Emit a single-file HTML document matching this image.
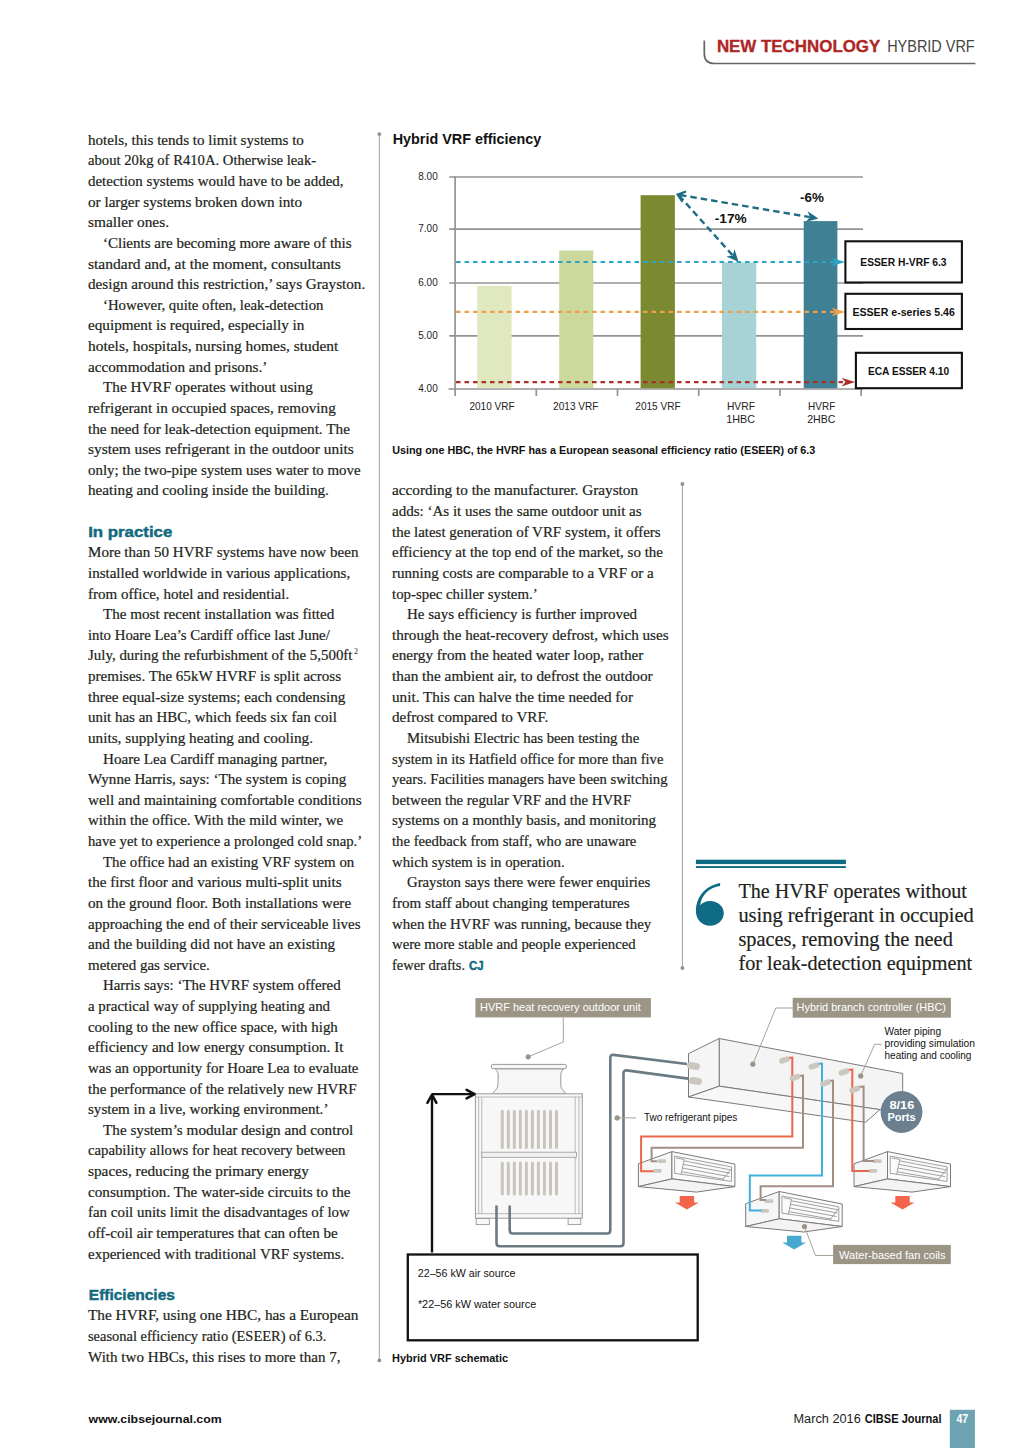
<!DOCTYPE html>
<html><head><meta charset="utf-8"><title>Hybrid VRF</title>
<style>
html,body{margin:0;padding:0;background:#ffffff;}
#page{position:relative;width:1024px;height:1448px;overflow:hidden;background:#ffffff;font-family:"Liberation Serif",serif;}
svg{position:absolute;left:0;top:0;}
</style></head><body><div id="page">
<svg width="1024" height="1448" viewBox="0 0 1024 1448">
<path d="M704.3 40.5 V53.5 Q704.3 63.5 714.3 63.5 H975.4" fill="none" stroke="#666666" stroke-width="1.7"/>
<text x="716.9" y="52.4" font-family="'Liberation Sans', sans-serif" font-size="17" font-weight="bold" fill="#ae2624" textLength="163.4" lengthAdjust="spacingAndGlyphs" stroke="#ae2624" stroke-width="0.35">NEW TECHNOLOGY</text>
<text x="887.2" y="52.4" font-family="'Liberation Sans', sans-serif" font-size="17" fill="#444444" textLength="87.5" lengthAdjust="spacingAndGlyphs">HYBRID VRF</text>
<line x1="379.3" y1="134" x2="379.3" y2="1360.4" stroke="#a0a0a0" stroke-width="1"/>
<circle cx="379.3" cy="134.1" r="1.9" fill="#909090"/><circle cx="379.3" cy="1360.4" r="1.9" fill="#909090"/>
<line x1="682.4" y1="484" x2="682.4" y2="968" stroke="#a0a0a0" stroke-width="1"/>
<circle cx="682.4" cy="484" r="1.9" fill="#909090"/><circle cx="682.4" cy="968" r="1.9" fill="#909090"/>
<text x="88.0" y="144.8" font-family="'Liberation Serif', serif" font-size="15.5" fill="#231f20" textLength="215.9" lengthAdjust="spacingAndGlyphs" stroke="#231f20" stroke-width="0.22">hotels, this tends to limit systems to</text>
<text x="88.0" y="165.4" font-family="'Liberation Serif', serif" font-size="15.5" fill="#231f20" textLength="228.1" lengthAdjust="spacingAndGlyphs" stroke="#231f20" stroke-width="0.22">about 20kg of R410A. Otherwise leak-</text>
<text x="88.0" y="186.1" font-family="'Liberation Serif', serif" font-size="15.5" fill="#231f20" textLength="255.5" lengthAdjust="spacingAndGlyphs" stroke="#231f20" stroke-width="0.22">detection systems would have to be added,</text>
<text x="88.0" y="206.7" font-family="'Liberation Serif', serif" font-size="15.5" fill="#231f20" textLength="214.1" lengthAdjust="spacingAndGlyphs" stroke="#231f20" stroke-width="0.22">or larger systems broken down into</text>
<text x="88.0" y="227.3" font-family="'Liberation Serif', serif" font-size="15.5" fill="#231f20" textLength="81.0" lengthAdjust="spacingAndGlyphs" stroke="#231f20" stroke-width="0.22">smaller ones.</text>
<text x="103.0" y="247.9" font-family="'Liberation Serif', serif" font-size="15.5" fill="#231f20" textLength="248.6" lengthAdjust="spacingAndGlyphs" stroke="#231f20" stroke-width="0.22">‘Clients are becoming more aware of this</text>
<text x="88.0" y="268.6" font-family="'Liberation Serif', serif" font-size="15.5" fill="#231f20" textLength="252.9" lengthAdjust="spacingAndGlyphs" stroke="#231f20" stroke-width="0.22">standard and, at the moment, consultants</text>
<text x="88.0" y="289.2" font-family="'Liberation Serif', serif" font-size="15.5" fill="#231f20" textLength="277.2" lengthAdjust="spacingAndGlyphs" stroke="#231f20" stroke-width="0.22">design around this restriction,’ says Grayston.</text>
<text x="103.0" y="309.8" font-family="'Liberation Serif', serif" font-size="15.5" fill="#231f20" textLength="220.5" lengthAdjust="spacingAndGlyphs" stroke="#231f20" stroke-width="0.22">‘However, quite often, leak-detection</text>
<text x="88.0" y="330.4" font-family="'Liberation Serif', serif" font-size="15.5" fill="#231f20" textLength="216.4" lengthAdjust="spacingAndGlyphs" stroke="#231f20" stroke-width="0.22">equipment is required, especially in</text>
<text x="88.0" y="351.1" font-family="'Liberation Serif', serif" font-size="15.5" fill="#231f20" textLength="250.4" lengthAdjust="spacingAndGlyphs" stroke="#231f20" stroke-width="0.22">hotels, hospitals, nursing homes, student</text>
<text x="88.0" y="371.7" font-family="'Liberation Serif', serif" font-size="15.5" fill="#231f20" textLength="179.3" lengthAdjust="spacingAndGlyphs" stroke="#231f20" stroke-width="0.22">accommodation and prisons.’</text>
<text x="103.0" y="392.3" font-family="'Liberation Serif', serif" font-size="15.5" fill="#231f20" textLength="209.8" lengthAdjust="spacingAndGlyphs" stroke="#231f20" stroke-width="0.22">The HVRF operates without using</text>
<text x="88.0" y="412.9" font-family="'Liberation Serif', serif" font-size="15.5" fill="#231f20" textLength="247.8" lengthAdjust="spacingAndGlyphs" stroke="#231f20" stroke-width="0.22">refrigerant in occupied spaces, removing</text>
<text x="88.0" y="433.6" font-family="'Liberation Serif', serif" font-size="15.5" fill="#231f20" textLength="261.9" lengthAdjust="spacingAndGlyphs" stroke="#231f20" stroke-width="0.22">the need for leak-detection equipment. The</text>
<text x="88.0" y="454.2" font-family="'Liberation Serif', serif" font-size="15.5" fill="#231f20" textLength="265.7" lengthAdjust="spacingAndGlyphs" stroke="#231f20" stroke-width="0.22">system uses refrigerant in the outdoor units</text>
<text x="88.0" y="474.8" font-family="'Liberation Serif', serif" font-size="15.5" fill="#231f20" textLength="272.6" lengthAdjust="spacingAndGlyphs" stroke="#231f20" stroke-width="0.22">only; the two-pipe system uses water to move</text>
<text x="88.0" y="495.4" font-family="'Liberation Serif', serif" font-size="15.5" fill="#231f20" textLength="240.9" lengthAdjust="spacingAndGlyphs" stroke="#231f20" stroke-width="0.22">heating and cooling inside the building.</text>
<text x="88.0" y="557.3" font-family="'Liberation Serif', serif" font-size="15.5" fill="#231f20" textLength="270.4" lengthAdjust="spacingAndGlyphs" stroke="#231f20" stroke-width="0.22">More than 50 HVRF systems have now been</text>
<text x="88.0" y="577.9" font-family="'Liberation Serif', serif" font-size="15.5" fill="#231f20" textLength="262.2" lengthAdjust="spacingAndGlyphs" stroke="#231f20" stroke-width="0.22">installed worldwide in various applications,</text>
<text x="88.0" y="598.5" font-family="'Liberation Serif', serif" font-size="15.5" fill="#231f20" textLength="201.2" lengthAdjust="spacingAndGlyphs" stroke="#231f20" stroke-width="0.22">from office, hotel and residential.</text>
<text x="103.0" y="619.2" font-family="'Liberation Serif', serif" font-size="15.5" fill="#231f20" textLength="231.3" lengthAdjust="spacingAndGlyphs" stroke="#231f20" stroke-width="0.22">The most recent installation was fitted</text>
<text x="88.0" y="639.8" font-family="'Liberation Serif', serif" font-size="15.5" fill="#231f20" textLength="241.8" lengthAdjust="spacingAndGlyphs" stroke="#231f20" stroke-width="0.22">into Hoare Lea’s Cardiff office last June/</text>
<text x="88.0" y="660.4" font-family="'Liberation Serif', serif" font-size="15.5" fill="#231f20" textLength="264.5" lengthAdjust="spacingAndGlyphs" stroke="#231f20" stroke-width="0.22">July, during the refurbishment of the 5,500ft</text>
<text x="88.0" y="681.0" font-family="'Liberation Serif', serif" font-size="15.5" fill="#231f20" textLength="253.0" lengthAdjust="spacingAndGlyphs" stroke="#231f20" stroke-width="0.22">premises. The 65kW HVRF is split across</text>
<text x="88.0" y="701.7" font-family="'Liberation Serif', serif" font-size="15.5" fill="#231f20" textLength="257.4" lengthAdjust="spacingAndGlyphs" stroke="#231f20" stroke-width="0.22">three equal-size systems; each condensing</text>
<text x="88.0" y="722.3" font-family="'Liberation Serif', serif" font-size="15.5" fill="#231f20" textLength="248.8" lengthAdjust="spacingAndGlyphs" stroke="#231f20" stroke-width="0.22">unit has an HBC, which feeds six fan coil</text>
<text x="88.0" y="742.9" font-family="'Liberation Serif', serif" font-size="15.5" fill="#231f20" textLength="225.0" lengthAdjust="spacingAndGlyphs" stroke="#231f20" stroke-width="0.22">units, supplying heating and cooling.</text>
<text x="103.0" y="763.5" font-family="'Liberation Serif', serif" font-size="15.5" fill="#231f20" textLength="224.3" lengthAdjust="spacingAndGlyphs" stroke="#231f20" stroke-width="0.22">Hoare Lea Cardiff managing partner,</text>
<text x="88.0" y="784.2" font-family="'Liberation Serif', serif" font-size="15.5" fill="#231f20" textLength="258.3" lengthAdjust="spacingAndGlyphs" stroke="#231f20" stroke-width="0.22">Wynne Harris, says: ‘The system is coping</text>
<text x="88.0" y="804.8" font-family="'Liberation Serif', serif" font-size="15.5" fill="#231f20" textLength="273.6" lengthAdjust="spacingAndGlyphs" stroke="#231f20" stroke-width="0.22">well and maintaining comfortable conditions</text>
<text x="88.0" y="825.4" font-family="'Liberation Serif', serif" font-size="15.5" fill="#231f20" textLength="255.2" lengthAdjust="spacingAndGlyphs" stroke="#231f20" stroke-width="0.22">within the office. With the mild winter, we</text>
<text x="88.0" y="846.0" font-family="'Liberation Serif', serif" font-size="15.5" fill="#231f20" textLength="274.2" lengthAdjust="spacingAndGlyphs" stroke="#231f20" stroke-width="0.22">have yet to experience a prolonged cold snap.’</text>
<text x="103.0" y="866.7" font-family="'Liberation Serif', serif" font-size="15.5" fill="#231f20" textLength="251.3" lengthAdjust="spacingAndGlyphs" stroke="#231f20" stroke-width="0.22">The office had an existing VRF system on</text>
<text x="88.0" y="887.3" font-family="'Liberation Serif', serif" font-size="15.5" fill="#231f20" textLength="253.6" lengthAdjust="spacingAndGlyphs" stroke="#231f20" stroke-width="0.22">the first floor and various multi-split units</text>
<text x="88.0" y="907.9" font-family="'Liberation Serif', serif" font-size="15.5" fill="#231f20" textLength="263.1" lengthAdjust="spacingAndGlyphs" stroke="#231f20" stroke-width="0.22">on the ground floor. Both installations were</text>
<text x="88.0" y="928.5" font-family="'Liberation Serif', serif" font-size="15.5" fill="#231f20" textLength="272.6" lengthAdjust="spacingAndGlyphs" stroke="#231f20" stroke-width="0.22">approaching the end of their serviceable lives</text>
<text x="88.0" y="949.2" font-family="'Liberation Serif', serif" font-size="15.5" fill="#231f20" textLength="247.2" lengthAdjust="spacingAndGlyphs" stroke="#231f20" stroke-width="0.22">and the building did not have an existing</text>
<text x="88.0" y="969.8" font-family="'Liberation Serif', serif" font-size="15.5" fill="#231f20" textLength="121.8" lengthAdjust="spacingAndGlyphs" stroke="#231f20" stroke-width="0.22">metered gas service.</text>
<text x="103.0" y="990.4" font-family="'Liberation Serif', serif" font-size="15.5" fill="#231f20" textLength="237.6" lengthAdjust="spacingAndGlyphs" stroke="#231f20" stroke-width="0.22">Harris says: ‘The HVRF system offered</text>
<text x="88.0" y="1011.0" font-family="'Liberation Serif', serif" font-size="15.5" fill="#231f20" textLength="242.1" lengthAdjust="spacingAndGlyphs" stroke="#231f20" stroke-width="0.22">a practical way of supplying heating and</text>
<text x="88.0" y="1031.7" font-family="'Liberation Serif', serif" font-size="15.5" fill="#231f20" textLength="249.8" lengthAdjust="spacingAndGlyphs" stroke="#231f20" stroke-width="0.22">cooling to the new office space, with high</text>
<text x="88.0" y="1052.3" font-family="'Liberation Serif', serif" font-size="15.5" fill="#231f20" textLength="255.4" lengthAdjust="spacingAndGlyphs" stroke="#231f20" stroke-width="0.22">efficiency and low energy consumption. It</text>
<text x="88.0" y="1072.9" font-family="'Liberation Serif', serif" font-size="15.5" fill="#231f20" textLength="270.4" lengthAdjust="spacingAndGlyphs" stroke="#231f20" stroke-width="0.22">was an opportunity for Hoare Lea to evaluate</text>
<text x="88.0" y="1093.5" font-family="'Liberation Serif', serif" font-size="15.5" fill="#231f20" textLength="268.7" lengthAdjust="spacingAndGlyphs" stroke="#231f20" stroke-width="0.22">the performance of the relatively new HVRF</text>
<text x="88.0" y="1114.2" font-family="'Liberation Serif', serif" font-size="15.5" fill="#231f20" textLength="240.4" lengthAdjust="spacingAndGlyphs" stroke="#231f20" stroke-width="0.22">system in a live, working environment.’</text>
<text x="103.0" y="1134.8" font-family="'Liberation Serif', serif" font-size="15.5" fill="#231f20" textLength="250.3" lengthAdjust="spacingAndGlyphs" stroke="#231f20" stroke-width="0.22">The system’s modular design and control</text>
<text x="88.0" y="1155.4" font-family="'Liberation Serif', serif" font-size="15.5" fill="#231f20" textLength="257.4" lengthAdjust="spacingAndGlyphs" stroke="#231f20" stroke-width="0.22">capability allows for heat recovery between</text>
<text x="88.0" y="1176.0" font-family="'Liberation Serif', serif" font-size="15.5" fill="#231f20" textLength="220.9" lengthAdjust="spacingAndGlyphs" stroke="#231f20" stroke-width="0.22">spaces, reducing the primary energy</text>
<text x="88.0" y="1196.7" font-family="'Liberation Serif', serif" font-size="15.5" fill="#231f20" textLength="262.5" lengthAdjust="spacingAndGlyphs" stroke="#231f20" stroke-width="0.22">consumption. The water-side circuits to the</text>
<text x="88.0" y="1217.3" font-family="'Liberation Serif', serif" font-size="15.5" fill="#231f20" textLength="261.9" lengthAdjust="spacingAndGlyphs" stroke="#231f20" stroke-width="0.22">fan coil units limit the disadvantages of low</text>
<text x="88.0" y="1237.9" font-family="'Liberation Serif', serif" font-size="15.5" fill="#231f20" textLength="249.8" lengthAdjust="spacingAndGlyphs" stroke="#231f20" stroke-width="0.22">off-coil air temperatures that can often be</text>
<text x="88.0" y="1258.5" font-family="'Liberation Serif', serif" font-size="15.5" fill="#231f20" textLength="256.3" lengthAdjust="spacingAndGlyphs" stroke="#231f20" stroke-width="0.22">experienced with traditional VRF systems.</text>
<text x="88.0" y="1320.4" font-family="'Liberation Serif', serif" font-size="15.5" fill="#231f20" textLength="270.4" lengthAdjust="spacingAndGlyphs" stroke="#231f20" stroke-width="0.22">The HVRF, using one HBC, has a European</text>
<text x="88.0" y="1341.0" font-family="'Liberation Serif', serif" font-size="15.5" fill="#231f20" textLength="238.4" lengthAdjust="spacingAndGlyphs" stroke="#231f20" stroke-width="0.22">seasonal efficiency ratio (ESEER) of 6.3.</text>
<text x="88.0" y="1361.7" font-family="'Liberation Serif', serif" font-size="15.5" fill="#231f20" textLength="252.6" lengthAdjust="spacingAndGlyphs" stroke="#231f20" stroke-width="0.22">With two HBCs, this rises to more than 7,</text>
<text x="392.0" y="495.4" font-family="'Liberation Serif', serif" font-size="15.5" fill="#231f20" textLength="246.1" lengthAdjust="spacingAndGlyphs" stroke="#231f20" stroke-width="0.22">according to the manufacturer. Grayston</text>
<text x="392.0" y="516.0" font-family="'Liberation Serif', serif" font-size="15.5" fill="#231f20" textLength="249.6" lengthAdjust="spacingAndGlyphs" stroke="#231f20" stroke-width="0.22">adds: ‘As it uses the same outdoor unit as</text>
<text x="392.0" y="536.7" font-family="'Liberation Serif', serif" font-size="15.5" fill="#231f20" textLength="268.6" lengthAdjust="spacingAndGlyphs" stroke="#231f20" stroke-width="0.22">the latest generation of VRF system, it offers</text>
<text x="392.0" y="557.3" font-family="'Liberation Serif', serif" font-size="15.5" fill="#231f20" textLength="271.0" lengthAdjust="spacingAndGlyphs" stroke="#231f20" stroke-width="0.22">efficiency at the top end of the market, so the</text>
<text x="392.0" y="577.9" font-family="'Liberation Serif', serif" font-size="15.5" fill="#231f20" textLength="261.7" lengthAdjust="spacingAndGlyphs" stroke="#231f20" stroke-width="0.22">running costs are comparable to a VRF or a</text>
<text x="392.0" y="598.5" font-family="'Liberation Serif', serif" font-size="15.5" fill="#231f20" textLength="145.6" lengthAdjust="spacingAndGlyphs" stroke="#231f20" stroke-width="0.22">top-spec chiller system.’</text>
<text x="407.0" y="619.2" font-family="'Liberation Serif', serif" font-size="15.5" fill="#231f20" textLength="230.1" lengthAdjust="spacingAndGlyphs" stroke="#231f20" stroke-width="0.22">He says efficiency is further improved</text>
<text x="392.0" y="639.8" font-family="'Liberation Serif', serif" font-size="15.5" fill="#231f20" textLength="276.6" lengthAdjust="spacingAndGlyphs" stroke="#231f20" stroke-width="0.22">through the heat-recovery defrost, which uses</text>
<text x="392.0" y="660.4" font-family="'Liberation Serif', serif" font-size="15.5" fill="#231f20" textLength="251.3" lengthAdjust="spacingAndGlyphs" stroke="#231f20" stroke-width="0.22">energy from the heated water loop, rather</text>
<text x="392.0" y="681.0" font-family="'Liberation Serif', serif" font-size="15.5" fill="#231f20" textLength="260.7" lengthAdjust="spacingAndGlyphs" stroke="#231f20" stroke-width="0.22">than the ambient air, to defrost the outdoor</text>
<text x="392.0" y="701.7" font-family="'Liberation Serif', serif" font-size="15.5" fill="#231f20" textLength="241.0" lengthAdjust="spacingAndGlyphs" stroke="#231f20" stroke-width="0.22">unit. This can halve the time needed for</text>
<text x="392.0" y="722.3" font-family="'Liberation Serif', serif" font-size="15.5" fill="#231f20" textLength="156.4" lengthAdjust="spacingAndGlyphs" stroke="#231f20" stroke-width="0.22">defrost compared to VRF.</text>
<text x="407.0" y="742.9" font-family="'Liberation Serif', serif" font-size="15.5" fill="#231f20" textLength="232.2" lengthAdjust="spacingAndGlyphs" stroke="#231f20" stroke-width="0.22">Mitsubishi Electric has been testing the</text>
<text x="392.0" y="763.5" font-family="'Liberation Serif', serif" font-size="15.5" fill="#231f20" textLength="271.4" lengthAdjust="spacingAndGlyphs" stroke="#231f20" stroke-width="0.22">system in its Hatfield office for more than five</text>
<text x="392.0" y="784.2" font-family="'Liberation Serif', serif" font-size="15.5" fill="#231f20" textLength="275.5" lengthAdjust="spacingAndGlyphs" stroke="#231f20" stroke-width="0.22">years. Facilities managers have been switching</text>
<text x="392.0" y="804.8" font-family="'Liberation Serif', serif" font-size="15.5" fill="#231f20" textLength="239.2" lengthAdjust="spacingAndGlyphs" stroke="#231f20" stroke-width="0.22">between the regular VRF and the HVRF</text>
<text x="392.0" y="825.4" font-family="'Liberation Serif', serif" font-size="15.5" fill="#231f20" textLength="264.1" lengthAdjust="spacingAndGlyphs" stroke="#231f20" stroke-width="0.22">systems on a monthly basis, and monitoring</text>
<text x="392.0" y="846.0" font-family="'Liberation Serif', serif" font-size="15.5" fill="#231f20" textLength="244.4" lengthAdjust="spacingAndGlyphs" stroke="#231f20" stroke-width="0.22">the feedback from staff, who are unaware</text>
<text x="392.0" y="866.7" font-family="'Liberation Serif', serif" font-size="15.5" fill="#231f20" textLength="172.6" lengthAdjust="spacingAndGlyphs" stroke="#231f20" stroke-width="0.22">which system is in operation.</text>
<text x="407.0" y="887.3" font-family="'Liberation Serif', serif" font-size="15.5" fill="#231f20" textLength="243.2" lengthAdjust="spacingAndGlyphs" stroke="#231f20" stroke-width="0.22">Grayston says there were fewer enquiries</text>
<text x="392.0" y="907.9" font-family="'Liberation Serif', serif" font-size="15.5" fill="#231f20" textLength="237.5" lengthAdjust="spacingAndGlyphs" stroke="#231f20" stroke-width="0.22">from staff about changing temperatures</text>
<text x="392.0" y="928.5" font-family="'Liberation Serif', serif" font-size="15.5" fill="#231f20" textLength="259.3" lengthAdjust="spacingAndGlyphs" stroke="#231f20" stroke-width="0.22">when the HVRF was running, because they</text>
<text x="392.0" y="949.2" font-family="'Liberation Serif', serif" font-size="15.5" fill="#231f20" textLength="243.7" lengthAdjust="spacingAndGlyphs" stroke="#231f20" stroke-width="0.22">were more stable and people experienced</text>
<text x="392.0" y="969.8" font-family="'Liberation Serif', serif" font-size="15.5" fill="#231f20" textLength="73.0" lengthAdjust="spacingAndGlyphs" stroke="#231f20" stroke-width="0.22">fewer drafts.</text>
<text x="354.0" y="653.9" font-family="'Liberation Serif', serif" font-size="8" fill="#231f20">2</text>
<text x="468.9" y="969.5" font-family="'Liberation Sans', sans-serif" font-size="12.5" font-weight="bold" fill="#136a80" textLength="14.6" lengthAdjust="spacingAndGlyphs" stroke="#136a80" stroke-width="0.5">CJ</text>
<text x="88.2" y="537.2" font-family="'Liberation Sans', sans-serif" font-size="14.8" font-weight="bold" fill="#136a80" textLength="84.1" lengthAdjust="spacingAndGlyphs" stroke="#136a80" stroke-width="0.45">In practice</text>
<text x="88.8" y="1300.3" font-family="'Liberation Sans', sans-serif" font-size="14.8" font-weight="bold" fill="#136a80" textLength="86.1" lengthAdjust="spacingAndGlyphs" stroke="#136a80" stroke-width="0.45">Efficiencies</text>
<text x="392.7" y="143.5" font-family="'Liberation Sans', sans-serif" font-size="14.8" font-weight="bold" fill="#111111" textLength="148.7" lengthAdjust="spacingAndGlyphs">Hybrid VRF efficiency</text>
<line x1="449.2" y1="177.0" x2="863" y2="177.0" stroke="#939393" stroke-width="1.7"/>
<text x="418.3" y="180.0" font-family="'Liberation Sans', sans-serif" font-size="10.8" fill="#222222" textLength="19.4" lengthAdjust="spacingAndGlyphs">8.00</text>
<line x1="449.2" y1="229.1" x2="863" y2="229.1" stroke="#939393" stroke-width="1.7"/>
<text x="418.3" y="232.1" font-family="'Liberation Sans', sans-serif" font-size="10.8" fill="#222222" textLength="19.4" lengthAdjust="spacingAndGlyphs">7.00</text>
<line x1="449.2" y1="283.0" x2="863" y2="283.0" stroke="#939393" stroke-width="1.7"/>
<text x="418.3" y="286.0" font-family="'Liberation Sans', sans-serif" font-size="10.8" fill="#222222" textLength="19.4" lengthAdjust="spacingAndGlyphs">6.00</text>
<line x1="449.2" y1="335.9" x2="863" y2="335.9" stroke="#939393" stroke-width="1.7"/>
<text x="418.3" y="338.9" font-family="'Liberation Sans', sans-serif" font-size="10.8" fill="#222222" textLength="19.4" lengthAdjust="spacingAndGlyphs">5.00</text>
<line x1="448.5" y1="389.0" x2="863" y2="389.0" stroke="#939393" stroke-width="1.7"/>
<text x="418.3" y="392.0" font-family="'Liberation Sans', sans-serif" font-size="10.8" fill="#222222" textLength="19.4" lengthAdjust="spacingAndGlyphs">4.00</text>
<line x1="455.1" y1="176.2" x2="455.1" y2="396" stroke="#939393" stroke-width="1.7"/>
<line x1="536.3" y1="389.0" x2="536.3" y2="396" stroke="#939393" stroke-width="1.7"/>
<line x1="617.5" y1="389.0" x2="617.5" y2="396" stroke="#939393" stroke-width="1.7"/>
<line x1="698.7" y1="389.0" x2="698.7" y2="396" stroke="#939393" stroke-width="1.7"/>
<line x1="779.9" y1="389.0" x2="779.9" y2="396" stroke="#939393" stroke-width="1.7"/>
<line x1="861.1" y1="389.0" x2="861.1" y2="396" stroke="#939393" stroke-width="1.7"/>
<rect x="477.2" y="285.8" width="34.4" height="102.4" fill="#dfe8be"/>
<rect x="559.2" y="250.5" width="34.1" height="137.7" fill="#cbd99c"/>
<rect x="640.6" y="195.2" width="34.3" height="193.0" fill="#7b8a30"/>
<rect x="721.9" y="262.5" width="34.3" height="125.7" fill="#a7d3d6"/>
<rect x="803.7" y="221.1" width="33.7" height="167.1" fill="#3f8094"/>
<line x1="456" y1="262" x2="836" y2="262" stroke="#2aa5c6" stroke-width="2.1" stroke-dasharray="4.6,3.9"/>
<path d="M845.0 262.0 L831.5 266.3 L835.5 262.0 L831.5 257.7 Z" fill="#2aa5c6"/>
<line x1="456" y1="311.9" x2="836" y2="311.9" stroke="#eea04a" stroke-width="2.1" stroke-dasharray="4.6,3.9"/>
<path d="M845.0 311.9 L831.5 316.2 L835.5 311.9 L831.5 307.6 Z" fill="#eea04a"/>
<line x1="456" y1="382.1" x2="846" y2="382.1" stroke="#a8322a" stroke-width="2.2" stroke-dasharray="4.6,3.9"/>
<path d="M855.0 382.1 L841.5 386.4 L845.5 382.1 L841.5 377.8 Z" fill="#a8322a"/>
<path d="M686 191.5 L677.6 194.6 L682.5 201.8" fill="none" stroke="#1d6c82" stroke-width="2.2"/>
<line x1="679" y1="195.5" x2="732.5278720026923" y2="255.24575612421725" stroke="#1d6c82" stroke-width="2.4" stroke-dasharray="6.5,4"/>
<path d="M738.4 261.8 L726.3 256.5 L732.8 255.5 L734.5 249.2 Z" fill="#1d6c82"/>
<line x1="680" y1="195" x2="809.7252153009291" y2="217.12077370738388" stroke="#1d6c82" stroke-width="2.4" stroke-dasharray="6.5,4"/>
<path d="M818.4 218.6 L805.6 222.0 L810.1 217.2 L807.5 211.2 Z" fill="#1d6c82"/>
<text x="714.8" y="222.7" font-family="'Liberation Sans', sans-serif" font-size="13.5" font-weight="bold" fill="#111111" textLength="32.0" lengthAdjust="spacingAndGlyphs">-17%</text>
<text x="800.1" y="201.6" font-family="'Liberation Sans', sans-serif" font-size="13.5" font-weight="bold" fill="#111111" textLength="23.9" lengthAdjust="spacingAndGlyphs">-6%</text>
<rect x="845.4" y="241.3" width="116.5" height="41.2" fill="#ffffff" stroke="#111111" stroke-width="2.1"/>
<rect x="845.4" y="293.8" width="116.5" height="35.2" fill="#ffffff" stroke="#111111" stroke-width="2.1"/>
<rect x="855.9" y="352.8" width="106.0" height="35.4" fill="#ffffff" stroke="#111111" stroke-width="2.1"/>
<text x="860.3" y="266.1" font-family="'Liberation Sans', sans-serif" font-size="10.8" font-weight="bold" fill="#111111" textLength="86.3" lengthAdjust="spacingAndGlyphs">ESSER H-VRF 6.3</text>
<text x="852.4" y="315.6" font-family="'Liberation Sans', sans-serif" font-size="10.8" font-weight="bold" fill="#111111" textLength="102.5" lengthAdjust="spacingAndGlyphs">ESSER e-series 5.46</text>
<text x="867.9" y="374.6" font-family="'Liberation Sans', sans-serif" font-size="10.8" font-weight="bold" fill="#111111" textLength="81.3" lengthAdjust="spacingAndGlyphs">ECA ESSER 4.10</text>
<text x="469.4" y="410.0" font-family="'Liberation Sans', sans-serif" font-size="10.5" fill="#222222" textLength="45.2" lengthAdjust="spacingAndGlyphs">2010 VRF</text>
<text x="553.1" y="410.0" font-family="'Liberation Sans', sans-serif" font-size="10.5" fill="#222222" textLength="45.3" lengthAdjust="spacingAndGlyphs">2013 VRF</text>
<text x="635.3" y="410.0" font-family="'Liberation Sans', sans-serif" font-size="10.5" fill="#222222" textLength="45.3" lengthAdjust="spacingAndGlyphs">2015 VRF</text>
<text x="726.9" y="410.0" font-family="'Liberation Sans', sans-serif" font-size="10.5" fill="#222222" textLength="28.1" lengthAdjust="spacingAndGlyphs">HVRF</text>
<text x="726.3" y="423.1" font-family="'Liberation Sans', sans-serif" font-size="10.5" fill="#222222" textLength="28.7" lengthAdjust="spacingAndGlyphs">1HBC</text>
<text x="808.1" y="410.0" font-family="'Liberation Sans', sans-serif" font-size="10.5" fill="#222222" textLength="27.2" lengthAdjust="spacingAndGlyphs">HVRF</text>
<text x="807.2" y="423.1" font-family="'Liberation Sans', sans-serif" font-size="10.5" fill="#222222" textLength="28.1" lengthAdjust="spacingAndGlyphs">2HBC</text>
<text x="392.2" y="454.3" font-family="'Liberation Sans', sans-serif" font-size="11.4" font-weight="bold" fill="#111111" textLength="423.2" lengthAdjust="spacingAndGlyphs">Using one HBC, the HVRF has a European seasonal efficiency ratio (ESEER) of 6.3</text>
<rect x="695.9" y="859.7" width="150" height="4.4" fill="#0f6a84"/>
<rect x="695.9" y="866.1" width="150" height="1.9" fill="#0f6a84"/>
<path d="M720.1 883.1 C708 885.5 697 894 695.9 910 C695.5 919 701.5 925.7 710 925.7 C718 925.7 723.8 920 723.8 913.3 C723.8 906 717.5 901 710 901 C705.5 901 702.5 902.8 700.2 905.2 C701.5 894 710 887.3 720.1 885.9 Z" fill="#0f6a84"/>
<text x="738.4" y="897.7" font-family="'Liberation Serif', serif" font-size="21" fill="#231f20" textLength="228.5" lengthAdjust="spacingAndGlyphs" stroke="#231f20" stroke-width="0.2">The HVRF operates without</text>
<text x="738.4" y="921.8" font-family="'Liberation Serif', serif" font-size="21" fill="#231f20" textLength="235.4" lengthAdjust="spacingAndGlyphs" stroke="#231f20" stroke-width="0.2">using refrigerant in occupied</text>
<text x="738.4" y="945.6" font-family="'Liberation Serif', serif" font-size="21" fill="#231f20" textLength="214.4" lengthAdjust="spacingAndGlyphs" stroke="#231f20" stroke-width="0.2">spaces, removing the need</text>
<text x="738.4" y="969.5" font-family="'Liberation Serif', serif" font-size="21" fill="#231f20" textLength="233.8" lengthAdjust="spacingAndGlyphs" stroke="#231f20" stroke-width="0.2">for leak-detection equipment</text>
<text x="88.6" y="1423.4" font-family="'Liberation Sans', sans-serif" font-size="11.5" font-weight="bold" fill="#111111" textLength="133.1" lengthAdjust="spacingAndGlyphs">www.cibsejournal.com</text>
<text x="793.5" y="1423.4" font-family="'Liberation Sans', sans-serif" font-size="12" fill="#222222" textLength="67.3" lengthAdjust="spacingAndGlyphs">March 2016</text>
<text x="864.8" y="1423.4" font-family="'Liberation Sans', sans-serif" font-size="12" font-weight="bold" fill="#111111" textLength="76.8" lengthAdjust="spacingAndGlyphs">CIBSE Journal</text>
<rect x="949.8" y="1409.8" width="25.1" height="38.2" fill="#6ea3b4"/>
<text x="956.4" y="1423.4" font-family="'Liberation Sans', sans-serif" font-size="12" font-weight="bold" fill="#ffffff" textLength="11.7" lengthAdjust="spacingAndGlyphs">47</text>
<rect x="475.4" y="998.1" width="175.5" height="19.3" fill="#9c9585"/>
<text x="480.0" y="1010.8" font-family="'Liberation Sans', sans-serif" font-size="11.5" fill="#ffffff" textLength="160.7" lengthAdjust="spacingAndGlyphs">HVRF heat recovery outdoor unit</text>
<rect x="792.7" y="997.8" width="158.2" height="19.9" fill="#9c9585"/>
<text x="796.6" y="1011.1" font-family="'Liberation Sans', sans-serif" font-size="11.5" fill="#ffffff" textLength="149.4" lengthAdjust="spacingAndGlyphs">Hybrid branch controller (HBC)</text>
<rect x="833.1" y="1244.9" width="117.7" height="19.2" fill="#9c9585"/>
<text x="839.0" y="1258.7" font-family="'Liberation Sans', sans-serif" font-size="11.5" fill="#ffffff" textLength="106.6" lengthAdjust="spacingAndGlyphs">Water-based fan coils</text>
<path d="M495.2 1068.8 C497.5 1071 498.3 1073 498.2 1076 L497.8 1086 C497.5 1089 494 1091.5 492.3 1094 L566.1 1094 C564.4 1091.5 561 1089 560.8 1086 L560.8 1076 C560.7 1073 561.5 1071 563.75 1068.8 Z" fill="#f6f6f6" stroke="#9a9a9a" stroke-width="1"/>
<rect x="491.4" y="1064.4" width="74.9" height="4.3" rx="1.5" fill="#f6f6f6" stroke="#9a9a9a" stroke-width="1"/>
<rect x="475.4" y="1093.8" width="106.9" height="124.4" fill="#f7f7f7" stroke="#9a9a9a" stroke-width="1"/>
<path d="M475.4 1097 H582.3 M478.7 1097 V1213.7 M481.8 1097 V1213.7 M575.2 1097 V1213.7 M579 1097 V1213.7 M475.4 1213.7 H582.3" fill="none" stroke="#aaaaaa" stroke-width="0.8"/>
<rect x="481.8" y="1152.2" width="94.7" height="5.1" fill="#f0f0f0" stroke="#9a9a9a" stroke-width="0.8"/>
<rect x="476.2" y="1218.5" width="13.2" height="6.1" fill="#f7f7f7" stroke="#9a9a9a" stroke-width="0.9"/>
<rect x="568.1" y="1218.5" width="12.7" height="6.1" fill="#f7f7f7" stroke="#9a9a9a" stroke-width="0.9"/>
<rect x="500.80" y="1109.8" width="3" height="39.1" rx="1.5" fill="#c9c5bd"/>
<rect x="500.80" y="1161.6" width="3" height="33.8" rx="1.5" fill="#c9c5bd"/>
<rect x="506.82" y="1109.8" width="3" height="39.1" rx="1.5" fill="#c9c5bd"/>
<rect x="506.82" y="1161.6" width="3" height="33.8" rx="1.5" fill="#c9c5bd"/>
<rect x="512.84" y="1109.8" width="3" height="39.1" rx="1.5" fill="#c9c5bd"/>
<rect x="512.84" y="1161.6" width="3" height="33.8" rx="1.5" fill="#c9c5bd"/>
<rect x="518.86" y="1109.8" width="3" height="39.1" rx="1.5" fill="#c9c5bd"/>
<rect x="518.86" y="1161.6" width="3" height="33.8" rx="1.5" fill="#c9c5bd"/>
<rect x="524.88" y="1109.8" width="3" height="39.1" rx="1.5" fill="#c9c5bd"/>
<rect x="524.88" y="1161.6" width="3" height="33.8" rx="1.5" fill="#c9c5bd"/>
<rect x="530.90" y="1109.8" width="3" height="39.1" rx="1.5" fill="#c9c5bd"/>
<rect x="530.90" y="1161.6" width="3" height="33.8" rx="1.5" fill="#c9c5bd"/>
<rect x="536.92" y="1109.8" width="3" height="39.1" rx="1.5" fill="#c9c5bd"/>
<rect x="536.92" y="1161.6" width="3" height="33.8" rx="1.5" fill="#c9c5bd"/>
<rect x="542.94" y="1109.8" width="3" height="39.1" rx="1.5" fill="#c9c5bd"/>
<rect x="542.94" y="1161.6" width="3" height="33.8" rx="1.5" fill="#c9c5bd"/>
<rect x="548.96" y="1109.8" width="3" height="39.1" rx="1.5" fill="#c9c5bd"/>
<rect x="548.96" y="1161.6" width="3" height="33.8" rx="1.5" fill="#c9c5bd"/>
<rect x="554.98" y="1109.8" width="3" height="39.1" rx="1.5" fill="#c9c5bd"/>
<rect x="554.98" y="1161.6" width="3" height="33.8" rx="1.5" fill="#c9c5bd"/>
<path d="M496.5 1205.5 V1243 Q496.5 1246.2 499.7 1246.2 H620.3 Q623.5 1246.2 623.5 1243 V1073.2 Q623.5 1070 626.7 1070.4 L688 1078.6" fill="none" stroke="#6b7b86" stroke-width="2.6"/>
<path d="M509.7 1205.5 V1230.3 Q509.7 1233.5 512.9 1233.5 H607.1 Q610.3 1233.5 610.3 1230.3 V1057.7 Q610.3 1054.5 613.5 1054.9 L687 1064" fill="none" stroke="#6b7b86" stroke-width="2.6"/>
<path d="M432 1252.5 V1095.5 M432 1094.1 H474" fill="none" stroke="#111111" stroke-width="2.4"/>
<path d="M427.4 1102.8 L432 1094.6 L436.4 1102.8 M466.6 1089.9 L474.6 1094.2 L466.6 1098.4" fill="none" stroke="#111111" stroke-width="2.5" stroke-linecap="round" stroke-linejoin="round"/>
<rect x="407.8" y="1254.5" width="289.9" height="85.8" fill="none" stroke="#111111" stroke-width="2.3"/>
<text x="417.8" y="1277.4" font-family="'Liberation Sans', sans-serif" font-size="10.8" fill="#111111" textLength="97.7" lengthAdjust="spacingAndGlyphs">22–56 kW air source</text>
<text x="417.9" y="1307.8" font-family="'Liberation Sans', sans-serif" font-size="10.8" fill="#111111" textLength="118.3" lengthAdjust="spacingAndGlyphs">*22–56 kW water source</text>
<text x="392.1" y="1361.7" font-family="'Liberation Sans', sans-serif" font-size="11.2" font-weight="bold" fill="#111111" textLength="116.0" lengthAdjust="spacingAndGlyphs">Hybrid VRF schematic</text>
<path d="M719.2 1038.5 L902.7 1073.5 L902.7 1112 L880 1109.6 L719.2 1086.2 Z" fill="#f4f4f4" stroke="#7a7a7a" stroke-width="1"/>
<path d="M688.5 1053.6 L719.2 1038.5 L719.2 1086.2 L688.5 1097 Z" fill="#f5f5f5" stroke="#7a7a7a" stroke-width="1"/>
<path d="M688.5 1097 L719.2 1086.2 L880 1109.6 L865.5 1122.3 Z" fill="#f7f7f7" stroke="#7a7a7a" stroke-width="1"/>
<rect x="687.0" y="1062.5" width="13" height="7" rx="3.5" fill="#cbc7bf" transform="rotate(8 693.5 1066.0)"/>
<rect x="689.0" y="1077.5" width="13" height="7" rx="3.5" fill="#cbc7bf" transform="rotate(8 695.5 1081.0)"/>
<path d="M638.4 1163.8 L671.9 1151.6 L671.9 1178.9 L638.4 1186.6 Z" fill="#f6f6f6" stroke="#7a7a7a" stroke-width="1"/>
<path d="M671.9 1151.6 L734.9 1164.1 L734.9 1186.6 L671.9 1178.9 Z" fill="#fbfbfb" stroke="#7a7a7a" stroke-width="1"/>
<path d="M638.4 1186.6 L671.9 1178.9 L734.9 1186.6 L696.4 1192.1 Z" fill="#f3f3f3" stroke="#7a7a7a" stroke-width="1"/>
<path d="M674.6 1156.1 L731.5 1166.9 L731.5 1181.4 L674.6 1173.3 Z" fill="none" stroke="#8a8a8a" stroke-width="0.8"/>
<path d="M676.1 1157.9 L684.2 1159.5 L681.1 1174.2 M684.2 1160.9 L730.2 1169.8 M683.5 1164.4 L730.2 1173.2 M682.7 1168.1 L729.4 1176.6 M681.9 1171.8 L723.9 1179.2 M731.5 1168.6 L722.4 1180.1" fill="none" stroke="#8a8a8a" stroke-width="0.8"/>
<rect x="657.4" y="1159.3" width="8.5" height="3.8" rx="1.2" fill="#cbc7bf"/>
<rect x="653.1" y="1169.0" width="8.5" height="3.8" rx="1.2" fill="#cbc7bf"/>
<path d="M679.7 1195.9 H694.1 V1202.6 H698.9 L686.9 1209.6 L674.9 1202.6 H679.7 Z" fill="#f2654a"/>
<path d="M745.7 1203.7 L779.2 1191.5 L779.2 1218.8 L745.7 1226.5 Z" fill="#f6f6f6" stroke="#7a7a7a" stroke-width="1"/>
<path d="M779.2 1191.5 L842.2 1204.0 L842.2 1226.5 L779.2 1218.8 Z" fill="#fbfbfb" stroke="#7a7a7a" stroke-width="1"/>
<path d="M745.7 1226.5 L779.2 1218.8 L842.2 1226.5 L803.7 1232.0 Z" fill="#f3f3f3" stroke="#7a7a7a" stroke-width="1"/>
<path d="M781.9 1196.0 L838.8 1206.8 L838.8 1221.3 L781.9 1213.2 Z" fill="none" stroke="#8a8a8a" stroke-width="0.8"/>
<path d="M783.4 1197.8 L791.5 1199.4 L788.4 1214.1 M791.5 1200.8 L837.5 1209.7 M790.8 1204.3 L837.5 1213.1 M790.0 1208.0 L836.7 1216.5 M789.2 1211.7 L831.2 1219.1 M838.8 1208.5 L829.7 1220.0" fill="none" stroke="#8a8a8a" stroke-width="0.8"/>
<rect x="764.7" y="1199.2" width="8.5" height="3.8" rx="1.2" fill="#cbc7bf"/>
<rect x="760.4" y="1208.9" width="8.5" height="3.8" rx="1.2" fill="#cbc7bf"/>
<path d="M787.0 1235.8 H801.4 V1242.5 H806.2 L794.2 1249.5 L782.2 1242.5 H787.0 Z" fill="#48a9d0"/>
<path d="M854.0 1163.8 L887.5 1151.6 L887.5 1178.9 L854.0 1186.6 Z" fill="#f6f6f6" stroke="#7a7a7a" stroke-width="1"/>
<path d="M887.5 1151.6 L950.5 1164.1 L950.5 1186.6 L887.5 1178.9 Z" fill="#fbfbfb" stroke="#7a7a7a" stroke-width="1"/>
<path d="M854.0 1186.6 L887.5 1178.9 L950.5 1186.6 L912.0 1192.1 Z" fill="#f3f3f3" stroke="#7a7a7a" stroke-width="1"/>
<path d="M890.2 1156.1 L947.1 1166.9 L947.1 1181.4 L890.2 1173.3 Z" fill="none" stroke="#8a8a8a" stroke-width="0.8"/>
<path d="M891.7 1157.9 L899.8 1159.5 L896.7 1174.2 M899.8 1160.9 L945.8 1169.8 M899.1 1164.4 L945.8 1173.2 M898.3 1168.1 L945.0 1176.6 M897.5 1171.8 L939.5 1179.2 M947.1 1168.6 L938.0 1180.1" fill="none" stroke="#8a8a8a" stroke-width="0.8"/>
<rect x="873.0" y="1159.3" width="8.5" height="3.8" rx="1.2" fill="#cbc7bf"/>
<rect x="868.7" y="1169.0" width="8.5" height="3.8" rx="1.2" fill="#cbc7bf"/>
<path d="M895.3 1195.9 H909.7 V1202.6 H914.5 L902.5 1209.6 L890.5 1202.6 H895.3 Z" fill="#f2654a"/>
<path d="M788 1058 L792.3 1057.5 V1136.5 H641.1 V1171.3 H653.4" fill="none" stroke="#e9654b" stroke-width="2"/>
<path d="M798 1076 L803 1075.5 V1147.8 H651.6 V1161.3 H656.9" fill="none" stroke="#a48e83" stroke-width="2"/>
<path d="M817 1064 L822 1063.5 V1175.5 H749.8 V1210.5 H761.5" fill="none" stroke="#3fb1d9" stroke-width="2"/>
<path d="M828 1081 L833 1080.5 V1186.3 H760.6 V1200 H766" fill="none" stroke="#a48e83" stroke-width="2"/>
<path d="M847 1070 L852.3 1069.5 V1171 H869.4" fill="none" stroke="#e9654b" stroke-width="2"/>
<path d="M857 1087 L863.6 1086.5 V1161 H874.1" fill="none" stroke="#a48e83" stroke-width="2"/>
<rect x="779.0" y="1057.2" width="11" height="5.5" rx="2.75" fill="#cbc7bf" transform="rotate(-18 784.5 1060.0)"/>
<rect x="789.5" y="1074.8" width="11" height="5.5" rx="2.75" fill="#cbc7bf" transform="rotate(-18 795.0 1077.5)"/>
<rect x="808.5" y="1063.2" width="11" height="5.5" rx="2.75" fill="#cbc7bf" transform="rotate(-18 814.0 1066.0)"/>
<rect x="820.0" y="1080.2" width="11" height="5.5" rx="2.75" fill="#cbc7bf" transform="rotate(-18 825.5 1083.0)"/>
<rect x="838.5" y="1069.2" width="11" height="5.5" rx="2.75" fill="#cbc7bf" transform="rotate(-18 844.0 1072.0)"/>
<rect x="849.2" y="1086.8" width="11" height="5.5" rx="2.75" fill="#cbc7bf" transform="rotate(-18 854.7 1089.5)"/>
<circle cx="901.5" cy="1112" r="20.9" fill="#6b7f8e"/>
<text x="889.4" y="1109.1" font-family="'Liberation Sans', sans-serif" font-size="11.5" font-weight="bold" fill="#ffffff" textLength="25.0" lengthAdjust="spacingAndGlyphs">8/16</text>
<text x="887.4" y="1121.2" font-family="'Liberation Sans', sans-serif" font-size="11.5" font-weight="bold" fill="#ffffff" textLength="28.3" lengthAdjust="spacingAndGlyphs">Ports</text>
<path d="M563.3 1017.4 V1042 L528.2 1056.8" fill="none" stroke="#a9a398" stroke-width="1"/>
<circle cx="528.2" cy="1056.8" r="2.6" fill="#9c9585"/>
<path d="M793.4 1008 H775.8 L752.9 1064.2" fill="none" stroke="#a9a398" stroke-width="1"/>
<circle cx="752.9" cy="1064.2" r="2.6" fill="#9c9585"/>
<path d="M881.6 1044.3 H874.7 L860.7 1075.9" fill="none" stroke="#a9a398" stroke-width="1"/>
<circle cx="860.7" cy="1075.9" r="2.6" fill="#9c9585"/>
<path d="M617.2 1117.9 H636.1" fill="none" stroke="#a9a398" stroke-width="1"/>
<circle cx="617.2" cy="1117.9" r="2.6" fill="#9c9585"/>
<path d="M804.5 1226.6 L815.5 1255.5 H833.1" fill="none" stroke="#a9a398" stroke-width="1"/>
<circle cx="804.5" cy="1226.6" r="2.6" fill="#9c9585"/>
<text x="643.9" y="1120.9" font-family="'Liberation Sans', sans-serif" font-size="10.5" fill="#111111" textLength="93.4" lengthAdjust="spacingAndGlyphs">Two refrigerant pipes</text>
<text x="884.5" y="1034.5" font-family="'Liberation Sans', sans-serif" font-size="10.2" fill="#111111" textLength="56.6" lengthAdjust="spacingAndGlyphs">Water piping</text>
<text x="884.5" y="1046.9" font-family="'Liberation Sans', sans-serif" font-size="10.2" fill="#111111" textLength="90.4" lengthAdjust="spacingAndGlyphs">providing simulation</text>
<text x="884.5" y="1059.3" font-family="'Liberation Sans', sans-serif" font-size="10.2" fill="#111111" textLength="86.9" lengthAdjust="spacingAndGlyphs">heating and cooling</text>
</svg></div></body></html>
